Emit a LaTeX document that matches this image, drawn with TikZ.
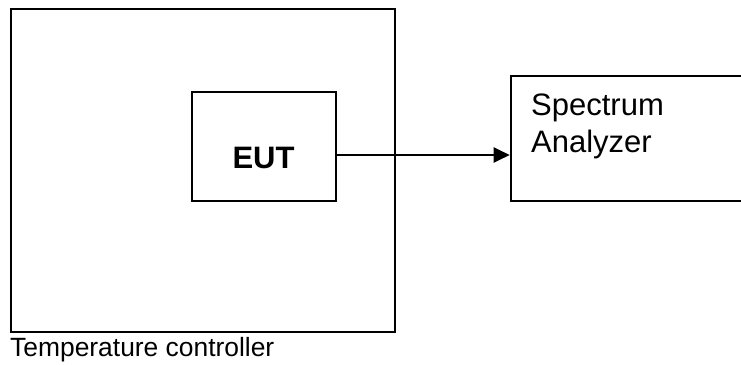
\documentclass[tikz,border=0pt]{standalone}
\usepackage{fontspec}
\setmainfont{Liberation Sans}
\usetikzlibrary{arrows.meta}
\begin{document}
\begin{tikzpicture}[x=1pt,y=-1pt,
  box/.style={draw=black, line width=2pt, rectangle, inner sep=0pt},
  bigtxt/.style={font=\fontsize{31}{37}\selectfont, inner sep=0pt},
  smalltxt/.style={font=\fontsize{26.4}{32}\selectfont, inner sep=0pt},
  conn/.style={line width=2pt, -{Triangle[length=16pt,width=15pt]}}]
\useasboundingbox (0,0) rectangle (741,364);
\clip (0,0) rectangle (741,364);
\node[box, anchor=north west, minimum width=384pt, minimum height=323pt] (tc) at (10,8) {};
\node[box, anchor=north west, minimum width=144pt, minimum height=109pt] (eut) at (191,91) {};
\node[bigtxt, font=\fontsize{31}{37}\selectfont\bfseries] (euttxt) at (263.5,158) {EUT};
\node[box, anchor=north west, minimum width=240pt, minimum height=125pt] (sa) at (509.7,75.3) {};
\node[bigtxt, anchor=base west] (sa1) at (531,115) {Spectrum};
\node[bigtxt, anchor=base west] (sa2) at (531,152) {Analyzer};
\node[smalltxt, anchor=base west] (tclbl) at (10,356) {Temperature controller};
\coordinate (a) at (eut.east |- 0,155);
\coordinate (b) at (sa.west |- 0,155);
\draw[conn] (a) -- (b);
\end{tikzpicture}
\end{document}
